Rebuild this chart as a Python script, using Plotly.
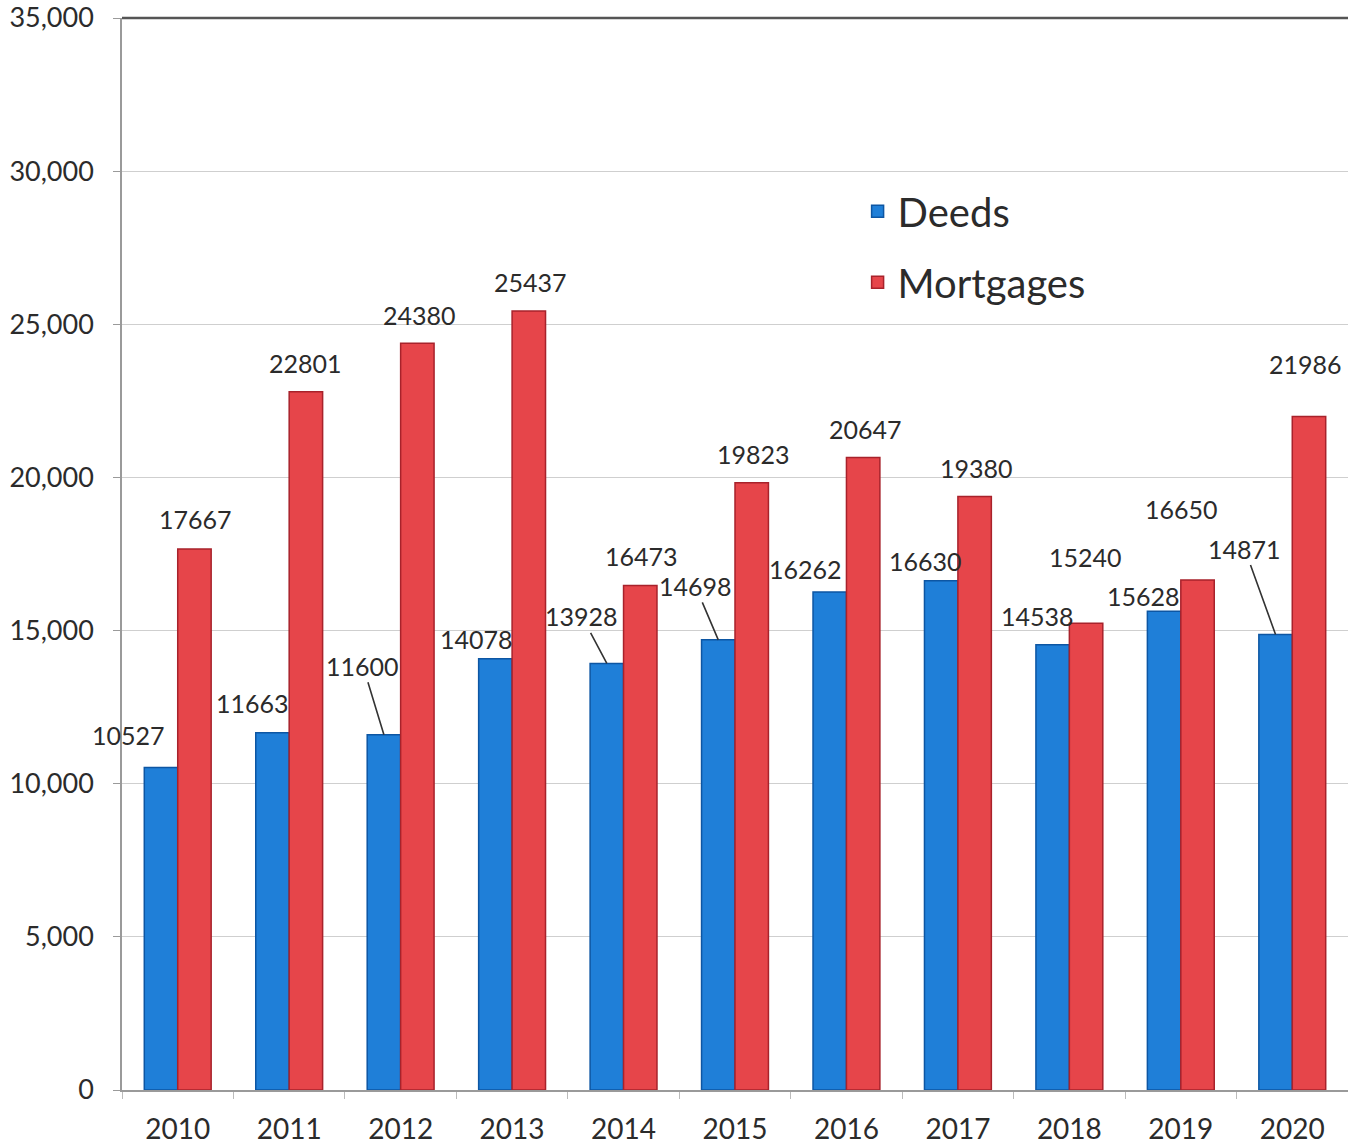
import plotly.graph_objects as go

years = [2010, 2011, 2012, 2013, 2014, 2015, 2016, 2017, 2018, 2019, 2020]
deeds = [10527, 11663, 11600, 14078, 13928, 14698, 16262, 16630, 14538, 15628, 14871]
mortgages = [17667, 22801, 24380, 25437, 16473, 19823, 20647, 19380, 15240, 16650, 21986]
y_ticks = [0, 5000, 10000, 15000, 20000, 25000, 30000, 35000]

# label placement (pixel offsets of label centre from bar top) and leader-line flags
deed_off = [(-33, -33), (-20, -30), (-21, -69), (-19, -20), (-25, -47), (-23, -54),
            (-24, -23), (-16, -20), (-15, -29), (-21, -15), (-31, -86)]
deed_line = [False, False, True, False, True, True, False, False, False, False, True]
mort_off = [(1, -30), (0, -29), (2, -28), (2, -29), (1, -29), (2, -29),
            (2, -29), (2, -28), (-1, -66), (-16, -71), (-3, -53)]

FONT = "Lato"
TXT = "#2b2b2b"
BLUE = "#1f7fd8"
RED = "#e6454a"

fig = go.Figure()
fig.add_bar(x=years, y=deeds, name="Deeds", marker=dict(color=BLUE, line=dict(color="#0d56a3", width=1.5)),
            legendgroup="d")
fig.add_bar(x=years, y=mortgages, name="Mortgages", marker=dict(color=RED, line=dict(color="#a8222b", width=1.5)),
            legendgroup="m")

ann = []
for yr, v, (dx, dy), ln in zip(years, deeds, deed_off, deed_line):
    if ln:
        ann.append(dict(x=yr - 0.15, y=v, text=str(v), showarrow=True, ax=dx, ay=dy,
                        arrowhead=0, arrowwidth=1.6, arrowcolor="#333", standoff=0,
                        font=dict(family=FONT, size=25, color=TXT)))
    else:
        ann.append(dict(x=yr - 0.15, y=v, text=str(v), showarrow=False, xshift=dx, yshift=-dy,
                        font=dict(family=FONT, size=25, color=TXT)))
for yr, v, (dx, dy) in zip(years, mortgages, mort_off):
    ann.append(dict(x=yr + 0.15, y=v, text=str(v), showarrow=False, xshift=dx, yshift=-dy,
                    font=dict(family=FONT, size=25, color=TXT)))

fig.update_layout(
    width=1348, height=1147,
    margin=dict(l=122, r=0, t=18, b=57),
    paper_bgcolor="white", plot_bgcolor="white",
    barmode="group", bargap=0.4, bargroupgap=0,
    font=dict(family=FONT, color=TXT),
    annotations=ann,
    legend=dict(x=0.60, y=0.85, xanchor="left", yanchor="top", traceorder="grouped",
                tracegroupgap=16, font=dict(family=FONT, size=40, color=TXT),
                bgcolor="rgba(0,0,0,0)"),
    xaxis=dict(range=[2009.5, 2020.5], tickvals=years, ticktext=[str(y) for y in years],
               ticks="", showgrid=False, showline=True, linecolor="#9a9a9a", linewidth=1.5,
               ticklabelstandoff=14, automargin=False,
               tickfont=dict(family=FONT, size=28, color=TXT),
               minor=dict(ticks="outside", tick0=2009.5, dtick=1, ticklen=7, tickcolor="#bbbbbb")),
    yaxis=dict(range=[0, 35000], tickvals=y_ticks, tickformat=",", ticks="outside", ticklen=7,
               tickcolor="#9a9a9a", showgrid=True, gridcolor="#cfcfcf", gridwidth=1,
               showline=True, linecolor="#9a9a9a", linewidth=1.5, zeroline=False,
               ticklabeloverflow="allow", automargin=False,
               ticklabelstandoff=14, tickfont=dict(family=FONT, size=27, color=TXT)),
    shapes=[dict(type="line", xref="paper", yref="paper", x0=0, x1=1, y0=1, y1=1,
                 line=dict(color="#555555", width=2.5))],
)

fig.write_html("out.html", config={"displayModeBar": False},
               post_script="document.body.style.margin='0';")
